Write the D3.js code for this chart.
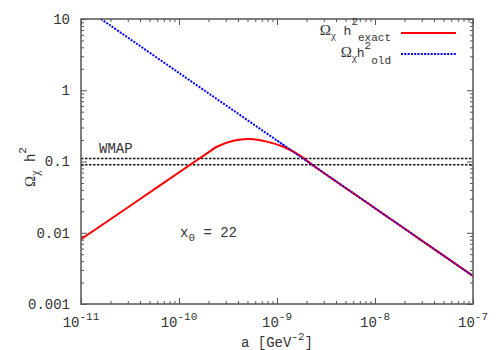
<!DOCTYPE html>
<html>
<head>
<meta charset="utf-8">
<script src="https://cdn.jsdelivr.net/npm/d3@7"></script>
<style>
body { margin: 0; background: #fff; }
text { font-family: "Courier New", "Liberation Mono", monospace; fill: #333; }
.gk { font-family: "Liberation Serif", "DejaVu Serif", serif; }
</style>
</head>
<body>
<svg id="chart" width="500" height="350"></svg>
<script>
// data
var xMajor = [1e-11, 1e-10, 1e-9, 1e-8, 1e-7];
var xExp = ['-11', '-10', '-9', '-8', '-7'];
var yMajor = [0.001, 0.01, 0.1, 1, 10];
var yLabels = ['0.001', '0.01', '0.1', '1', '10'];

var exactA = [1e-11, 2.5e-11, 6.4e-11, 1.29e-10, 1.98e-10, 2.43e-10, 3.58e-10, 5.3e-10, 7.85e-10, 1.16e-9, 1.72e-9, 2.5e-9, 1e-8, 3.16e-8, 1e-7];
var exactOmega = [0.0081, 0.0191, 0.0462, 0.0893, 0.133, 0.161, 0.196, 0.207, 0.19, 0.161, 0.121, 0.0824, 0.0221, 0.0074, 0.00247];

var oldA = [1.6e-11, 1e-10, 1e-9, 1e-8, 1e-7];
var oldOmega = [10, 1.75, 0.197, 0.0221, 0.00247];

var wmap = [0.09, 0.11];

var svg = d3.select('#chart');
var pLeft = 81, pRight = 473, pTop = 19, pBottom = 304;

var x = d3.scaleLog().domain([1e-11, 1e-7]).range([pLeft, pRight]);
var y = d3.scaleLog().domain([1e-3, 10]).range([pBottom, pTop]);

// minor ticks 2..9 in each decade
var minorTicks = function(major) {
	var out = [];
	major.slice(0, -1).forEach(function(m) {
		for (var k = 2; k < 10; k++) out.push(m * k);
	});
	return out;
};
var xMinor = minorTicks(xMajor);
var yMinor = minorTicks(yMajor);

var tickStyle = function(g) {
	g.select('.domain').remove();
	g.selectAll('line').attr('stroke', '#555');
};

var addAxis = function(axis, tr, values, size) {
	svg.append('g')
		.attr('transform', tr)
		.call(axis.tickValues(values).tickSize(size).tickFormat(''))
		.call(tickStyle);
};

addAxis(d3.axisBottom(x), `translate(0,${pBottom})`, xMajor, -6);
addAxis(d3.axisBottom(x), `translate(0,${pBottom})`, xMinor, -3);
addAxis(d3.axisTop(x), `translate(0,${pTop})`, xMajor, -6);
addAxis(d3.axisTop(x), `translate(0,${pTop})`, xMinor, -3);
addAxis(d3.axisLeft(y), `translate(${pLeft},0)`, yMajor, -6);
addAxis(d3.axisLeft(y), `translate(${pLeft},0)`, yMinor, -3);
addAxis(d3.axisRight(y), `translate(${pRight},0)`, yMajor, -6);
addAxis(d3.axisRight(y), `translate(${pRight},0)`, yMinor, -3);

// tick labels
svg.append('g')
	.selectAll('text')
	.data(yMajor)
	.enter()
	.append('text')
	.attr('x', pLeft - 11)
	.attr('y', d => y(d))
	.attr('dy', '0.35em')
	.attr('text-anchor', 'end')
	.style('font-size', '14px')
	.text((d, i) => yLabels[i]);

var xl = svg.append('g')
	.selectAll('text')
	.data(xMajor)
	.enter()
	.append('text')
	.attr('x', d => x(d))
	.attr('y', pBottom + 23)
	.attr('text-anchor', 'middle')
	.style('font-size', '14px');
xl.append('tspan').text('10');
xl.append('tspan')
	.attr('dy', -7)
	.style('font-size', '11px')
	.text((d, i) => xExp[i]);

var clip = svg.append('clipPath').attr('id', 'plot-clip');
clip.append('rect')
	.attr('x', pLeft).attr('y', pTop)
	.attr('width', pRight - pLeft).attr('height', pBottom - pTop);

var plot = svg.append('g').attr('clip-path', 'url(#plot-clip)');

// WMAP band
plot.selectAll('.wmap')
	.data(wmap)
	.enter()
	.append('line')
	.attr('class', 'wmap')
	.attr('x1', pLeft)
	.attr('x2', pRight)
	.attr('y1', d => y(d))
	.attr('y2', d => y(d))
	.attr('stroke', '#111')
	.attr('stroke-width', 1.6)
	.attr('stroke-dasharray', '2.5,1.5');

var line = d3.line()
	.x(d => x(d[0]))
	.y(d => y(d[1]))
	.curve(d3.curveCatmullRom.alpha(0.5));

var oldData = oldA.map((a, i) => [a, oldOmega[i]]);

plot.append('path')
	.datum(oldData)
	.attr('d', line)
	.attr('fill', 'none')
	.attr('stroke', '#0000ff')
	.attr('stroke-width', 2)
	.attr('stroke-dasharray', '2,1.3');

plot.append('path')
	.datum(exactA.map((a, i) => [a, exactOmega[i]]))
	.attr('d', line)
	.attr('fill', 'none')
	.attr('stroke', '#ff0000')
	.attr('stroke-width', 2);

// old curve again on top, where the two lie together
plot.append('path')
	.datum(oldData.slice(2))
	.attr('d', line)
	.attr('fill', 'none')
	.attr('stroke', '#0000ff')
	.attr('stroke-width', 1.4)
	.attr('stroke-dasharray', '2,1.3')
	.attr('opacity', 0.85);

// frame
svg.append('rect')
	.attr('x', pLeft).attr('y', pTop)
	.attr('width', pRight - pLeft).attr('height', pBottom - pTop)
	.attr('fill', 'none')
	.attr('stroke', '#555')
	.attr('stroke-width', 1.5);

// text helper: parts are [text, greek, dy, size]
var rich = function(el, parts) {
	parts.forEach(function(p) {
		var t = el.append('tspan').text(p[0]);
		if (p[1]) t.attr('class', 'gk');
		if (p[2]) t.attr('dy', p[2]);
		t.style('font-size', p[3] + 'px');
	});
	return el;
};

svg.append('text')
	.attr('x', 99).attr('y', 153)
	.style('font-size', '14px')
	.text('WMAP');

rich(svg.append('text').attr('x', 180).attr('y', 237), [
	['x', false, 0, 14], ['0', false, 4, 11], [' = 22', false, -4, 14]
]);

rich(svg.append('text').attr('x', 277).attr('y', 347).attr('text-anchor', 'middle'), [
	['a  [GeV', false, 0, 14], ['-2', false, -7, 11], [']', false, 7, 14]
]);

rich(svg.append('text')
	.attr('transform', 'translate(35,167) rotate(-90)')
	.attr('text-anchor', 'middle'), [
	['Ω', true, 0, 15], ['χ', true, 4, 12], [' h', false, -4, 14], ['2', false, -9, 11]
]);

// legend
rich(svg.append('text').attr('x', 391).attr('y', 35).attr('text-anchor', 'end'), [
	['Ω', true, 0, 15], ['χ', true, 4, 11], [' h', false, -4, 13], ['2', false, -10, 11], ['exact', false, 16, 11]
]);
rich(svg.append('text').attr('x', 391).attr('y', 57).attr('text-anchor', 'end'), [
	['Ω', true, 0, 15], ['χ', true, 4, 11], ['h', false, -4, 13], ['2', false, -8, 11], ['old', false, 15, 11]
]);

svg.append('line')
	.attr('x1', 401).attr('x2', 456)
	.attr('y1', 33).attr('y2', 33)
	.attr('stroke', '#ff0000')
	.attr('stroke-width', 2);
svg.append('line')
	.attr('x1', 401).attr('x2', 456)
	.attr('y1', 54).attr('y2', 54)
	.attr('stroke', '#0000ff')
	.attr('stroke-width', 2)
	.attr('stroke-dasharray', '2,1.3');
</script>
</body>
</html>
